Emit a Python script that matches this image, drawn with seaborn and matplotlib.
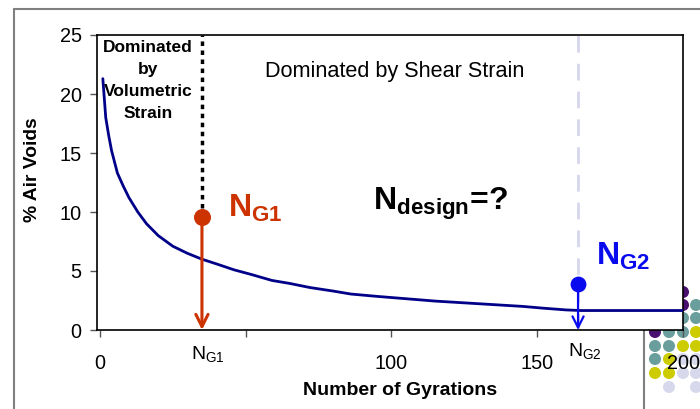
import matplotlib
matplotlib.use("Agg")
import matplotlib.pyplot as plt
import seaborn as sns
import pandas as pd

# ---- data ----
gyrations = [1, 2, 3, 4, 6, 8, 10, 13, 16, 20, 25, 30, 35, 40, 46, 52, 59, 65,
             72, 80, 86, 95, 105, 115, 125, 135, 145, 152, 160, 165, 200]
air_voids = [21.3, 18.0, 16.5, 15.2, 13.3, 12.2, 11.2, 10.0, 9.0, 8.0, 7.1, 6.5,
             6.0, 5.6, 5.1, 4.7, 4.2, 3.95, 3.6, 3.3, 3.05, 2.85, 2.65, 2.45,
             2.3, 2.15, 2.0, 1.85, 1.7, 1.65, 1.65]
x_ticks = [0, 50, 100, 150, 200]
x_tick_labels = ["0", "", "100", "150", "200"]
y_ticks = [0, 5, 10, 15, 20, 25]
ng1_x, ng1_y = 35, 9.6
ng2_x, ng2_y = 164, 3.9

# decorative dot pattern (pixel grid of the slide background)
dot_x = [683, 683, 696, 683, 696, 655, 669, 683, 696, 655, 669, 683, 696,
         655, 669, 683, 696, 655, 669, 683, 696, 669, 696]
dot_y = [292, 305, 305, 318, 318, 332, 332, 332, 332, 346, 346, 346, 346,
         359, 359, 359, 359, 373, 373, 373, 373, 387, 387]
dot_c = ["p", "p", "t", "t", "t", "p", "t", "t", "y", "t", "t", "y", "y",
         "t", "y", "l", "l", "y", "y", "l", "l", "l", "l"]
dot_palette = {"p": "#4a1070", "t": "#6a9e9c", "y": "#cccc00", "l": "#d8d8ec"}

sns.set_theme(style="white")
plt.rcParams["font.family"] = ["Liberation Sans", "DejaVu Sans"]
plt.rcParams["text.color"] = "black"
plt.rcParams["axes.labelcolor"] = "black"
plt.rcParams["mathtext.fontset"] = "custom"
plt.rcParams["mathtext.rm"] = "Liberation Sans"
plt.rcParams["mathtext.bf"] = "Liberation Sans:bold"
plt.rcParams["mathtext.it"] = "Liberation Sans:italic"

fig = plt.figure(figsize=(7, 4.09), dpi=100)

# background (slide decoration)
bg = fig.add_axes([0, 0, 1, 1], zorder=0)
bg.set_xlim(0, 700)
bg.set_ylim(409, 0)
bg.axis("off")
bg.scatter(dot_x, dot_y, s=75, c=[dot_palette[k] for k in dot_c], linewidths=0)
bg.plot([644, 644], [322, 409], color="#808080", lw=1.5)
bg.plot([14, 700], [9, 9], color="#808080", lw=1.5)
bg.plot([14, 14], [9, 409], color="#808080", lw=1.5)

ax = fig.add_axes([97 / 700, 1 - 330 / 409, (683 - 97) / 700, (330 - 35) / 409], zorder=1)
ax.set_facecolor("white")

df = pd.DataFrame({"Gyrations": gyrations, "Voids": air_voids})
sns.lineplot(data=df, x="Gyrations", y="Voids", ax=ax, color="#000088", lw=2, zorder=3)

ax.set_xlim(-1, 200)
ax.set_ylim(0, 25)
ax.set_xticks(x_ticks)
ax.set_xticklabels(x_tick_labels)
ax.set_yticks(y_ticks)
ax.tick_params(axis="both", which="both", direction="out", length=5, width=1, color="#555555",
               labelsize=14.3, labelcolor="black", bottom=True, left=True)
ax.tick_params(axis="x", pad=12)
ax.tick_params(axis="y", pad=6)
for sp in ax.spines.values():
    sp.set_color("black")
    sp.set_linewidth(1.2)

ax.set_xlabel("Number of Gyrations", fontsize=14, fontweight="bold")
ax.xaxis.set_label_coords((400 - 97) / 586, -(382 - 330) / 295)
ax.set_ylabel("% Air Voids", fontsize=13.9, fontweight="bold")
ax.yaxis.set_label_coords(-(97 - 41) / 586, (330 - 170) / 295)

# vertical guide lines
ax.plot([ng1_x, ng1_x], [ng1_y, 25], color="black", lw=2.5, ls=(0, (1.3, 1.3)), zorder=2)
ax.plot([ng2_x, ng2_x], [0, 25], color="#d6d6ee", lw=2, ls=(0, (6, 4)), zorder=2)

# arrows and dots
ax.annotate("", xy=(ng1_x, 0), xytext=(ng1_x, ng1_y),
            arrowprops=dict(arrowstyle="->", color="#cc3300", lw=2.2, mutation_scale=22,
                            shrinkA=0, shrinkB=0), zorder=4)
ax.scatter([ng1_x], [ng1_y], s=150, color="#cc3300", zorder=5, linewidths=0)
ax.annotate("", xy=(ng2_x, 0), xytext=(ng2_x, ng2_y),
            arrowprops=dict(arrowstyle="->", color="#0a0aee", lw=1.6, mutation_scale=20,
                            shrinkA=0, shrinkB=0), zorder=4)
ax.scatter([ng2_x], [ng2_y], s=130, color="#0a0aee", zorder=5, linewidths=0)

# texts
ax.text(16.5, 24.6, "Dominated\nby\nVolumetric\nStrain", ha="center", va="top",
        fontsize=12.5, fontweight="bold", linespacing=1.6)
ax.text(101, 21.9, "Dominated by Shear Strain", ha="center", va="center", fontsize=15.6)
ax.text(93.5, 10.7, r"$\mathbf{N_{design}}$=?", ha="left", va="center",
        fontsize=23, fontweight="bold")
ax.text(44.0, 10.3, r"$\mathbf{N_{G1}}$", ha="left", va="center", fontsize=23, color="#cc3300")
ax.text(170.0, 6.2, r"$\mathbf{N_{G2}}$", ha="left", va="center", fontsize=23, color="#0a0aee")

ax.text(37.0, -2.0, r"$\mathrm{N_{G1}}$", ha="center", va="center", fontsize=14)
ax.text(166.5, -1.8, r"$\mathrm{N_{G2}}$", ha="center", va="center", fontsize=14)

fig.savefig("out.png", dpi=100)
